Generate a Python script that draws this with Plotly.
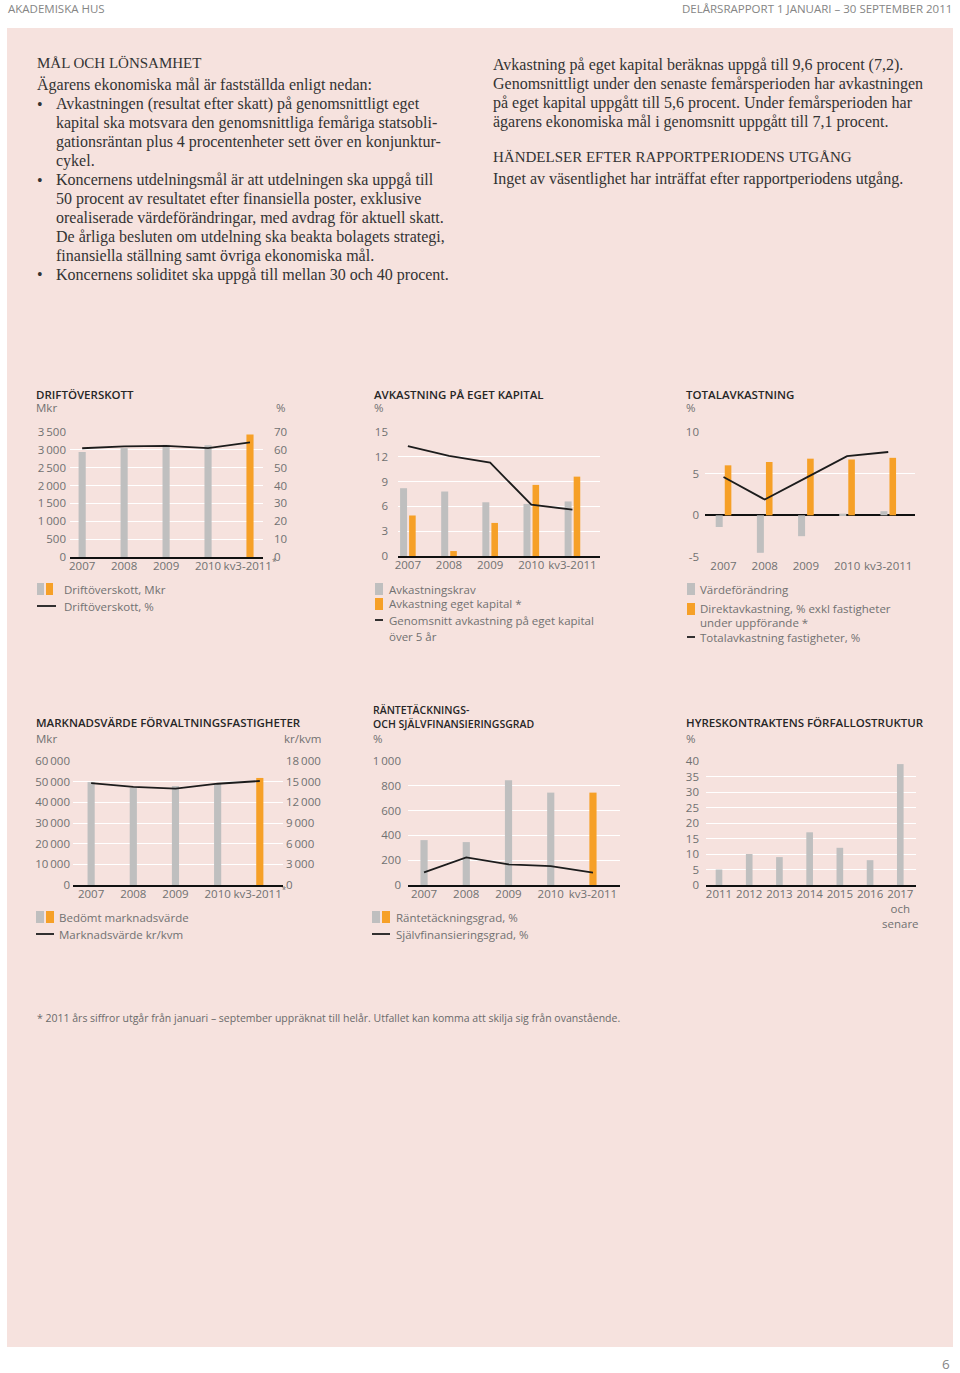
import plotly.graph_objects as go

W, H = 960, 1373

# ---------------- data ----------------
years5 = ["2007", "2008", "2009", "2010", "kv3-2011"]
years5_ticks = ["2007", "2008", "2009", "2010", "kv3-2011"]
years5_ticks_star = ["2007", "2008", "2009", "2010", "kv3-2011<sup>*</sup>"]

drift_mkr = [2940, 3050, 3140, 3130, 3430]
drift_pct = [60.9, 62.0, 62.2, 61.0, 64.2]

avk_krav = [8.2, 7.8, 6.5, 6.3, 6.6]
avk_eget = [4.9, 0.6, 4.0, 8.6, 9.6]
avk_snitt = [13.3, 12.1, 11.3, 6.2, 5.6]

vardeforandring = [-1.4, -4.5, -2.5, 0.2, 0.5]
direktavk = [6.0, 6.4, 6.8, 6.7, 6.9]
totalavk = [4.6, 1.9, 4.5, 7.1, 7.6]

marknadsvarde = [49800, 47100, 47900, 49100, 51800]
kr_kvm = [14800, 14250, 14000, 14700, 15100]

rantetackning = [362, 346, 845, 745, 745]
sjalvfin = [102, 222, 166, 153, 99]

hyres_years = ["2011", "2012", "2013", "2014", "2015", "2016", "2017 och senare"]
hyres_ticks = ["2011", "2012", "2013", "2014", "2015", "2016", "2017<br>och<br>senare"]
hyres_pct = [5, 10, 9, 17, 12, 8, 39]

# tick labels
drift_left_vals = [0, 500, 1000, 1500, 2000, 2500, 3000, 3500]
drift_left_text = ["0", "500", "1\u2009000", "1\u2009500", "2\u2009000", "2\u2009500", "3\u2009000", "3\u2009500"]
drift_right_vals = [0, 10, 20, 30, 40, 50, 60, 70]
drift_right_text = ["0", "10", "20", "30", "40", "50", "60", "70"]
avk_vals = [0, 3, 6, 9, 12, 15]
avk_text = ["0", "3", "6", "9", "12", "15"]
tot_vals = [-5, 0, 5, 10]
tot_text = ["-5", "0", "5", "10"]
mv_left_vals = [0, 10000, 20000, 30000, 40000, 50000, 60000]
mv_left_text = ["0", "10\u2009000", "20\u2009000", "30\u2009000", "40\u2009000", "50\u2009000", "60\u2009000"]
mv_right_vals = [0, 3000, 6000, 9000, 12000, 15000, 18000]
mv_right_text = ["0", "3\u2009000", "6\u2009000", "9\u2009000", "12\u2009000", "15\u2009000", "18\u2009000"]
rt_vals = [0, 200, 400, 600, 800, 1000]
rt_text = ["0", "200", "400", "600", "800", "1\u2009000"]
hy_vals = [0, 5, 10, 15, 20, 25, 30, 35, 40]
hy_text = ["0", "5", "10", "15", "20", "25", "30", "35", "40"]

# ---------------- style ----------------
GRAY = "#bfbfbf"
ORANGE = "#f6a027"
PINK = "#f6e2de"
LINE = "#1c1c1c"
TICKC = "#717171"
SANS = "Open Sans"
SERIF = "Liberation Serif"
TF = dict(family=SANS, size=11.5, color=TICKC)


def dx(x0, x1):
    return [x0 / W, x1 / W]


def dy(ytop, ybot):
    return [1 - ybot / H, 1 - ytop / H]


def px(x):
    return x / W


def py(y):
    return 1 - y / H


fig = go.Figure()

bar_colors5 = [GRAY, GRAY, GRAY, GRAY, ORANGE]

# chart 1
fig.add_trace(go.Bar(x=years5, y=drift_mkr, width=0.17, marker=dict(color=bar_colors5, line_width=0),
                     xaxis="x", yaxis="y", showlegend=False))
fig.add_trace(go.Scatter(x=years5, y=drift_pct, mode="lines", line=dict(color=LINE, width=1.8),
                         xaxis="x", yaxis="y7", showlegend=False))
# chart 2
fig.add_trace(go.Bar(x=years5, y=avk_krav, width=0.17, offset=-0.19, marker=dict(color=GRAY, line_width=0),
                     xaxis="x2", yaxis="y2", showlegend=False))
fig.add_trace(go.Bar(x=years5, y=avk_eget, width=0.16, offset=0.03, marker=dict(color=ORANGE, line_width=0),
                     xaxis="x2", yaxis="y2", showlegend=False))
fig.add_trace(go.Scatter(x=years5, y=avk_snitt, mode="lines", line=dict(color=LINE, width=1.8),
                         xaxis="x2", yaxis="y2", showlegend=False))
# chart 3
fig.add_trace(go.Bar(x=years5, y=vardeforandring, width=0.17, offset=-0.19, marker=dict(color=GRAY, line_width=0),
                     xaxis="x3", yaxis="y3", showlegend=False))
fig.add_trace(go.Bar(x=years5, y=direktavk, width=0.16, offset=0.03, marker=dict(color=ORANGE, line_width=0),
                     xaxis="x3", yaxis="y3", showlegend=False))
fig.add_trace(go.Scatter(x=years5, y=totalavk, mode="lines", line=dict(color=LINE, width=1.8),
                         xaxis="x3", yaxis="y3", showlegend=False))
# chart 4
fig.add_trace(go.Bar(x=years5, y=marknadsvarde, width=0.17, marker=dict(color=bar_colors5, line_width=0),
                     xaxis="x4", yaxis="y4", showlegend=False))
fig.add_trace(go.Scatter(x=years5, y=kr_kvm, mode="lines", line=dict(color=LINE, width=1.8),
                         xaxis="x4", yaxis="y8", showlegend=False))
# chart 5
fig.add_trace(go.Bar(x=years5, y=rantetackning, width=0.17, marker=dict(color=bar_colors5, line_width=0),
                     xaxis="x5", yaxis="y5", showlegend=False))
fig.add_trace(go.Scatter(x=years5, y=sjalvfin, mode="lines", line=dict(color=LINE, width=1.8),
                         xaxis="x5", yaxis="y5", showlegend=False))
# chart 6
fig.add_trace(go.Bar(x=hyres_years, y=hyres_pct, width=0.22, marker=dict(color=GRAY, line_width=0),
                     xaxis="x6", yaxis="y6", showlegend=False))


def xax(dom, rng, anchor, ticktext, cats, showline=True, standoff=-3):
    return dict(domain=dom, range=rng, type="category", anchor=anchor, showgrid=False, zeroline=False,
                showline=showline, linecolor="#111111", linewidth=2, ticks="", tickangle=0,
                tickfont=TF, tickmode="array", tickvals=cats, ticktext=ticktext, fixedrange=True,
                categoryorder="array", categoryarray=cats, automargin=False, ticklabelstandoff=standoff)


def yax(dom, rng, anchor, vals, text, standoff=4, side="left", grid=True, zeroline=False, overlaying=None):
    d = dict(domain=dom, range=rng, anchor=anchor, showgrid=grid, gridcolor="white", gridwidth=1.4,
             zeroline=zeroline, zerolinecolor="#111111", zerolinewidth=2, showline=False, ticks="",
             tickfont=TF, tickmode="array", tickvals=vals, ticktext=text, side=side,
             ticklabelstandoff=standoff, fixedrange=True, automargin=False)
    if overlaying:
        d["overlaying"] = overlaying
        d.pop("domain")
    return d


fig.update_layout(
    xaxis=xax(dx(70, 263), [-0.29, 4.31], "y", years5_ticks_star, years5),
    yaxis=yax(dy(432, 557), [0, 3500], "x", drift_left_vals, drift_left_text, standoff=3),
    yaxis7=yax(None, [0, 70], "x", drift_right_vals, drift_right_text, standoff=10, side="right",
               grid=False, overlaying="y"),
    xaxis2=xax(dx(398, 600), [-0.24, 4.67], "y2", years5_ticks, years5),
    yaxis2=yax(dy(432, 556), [0, 15], "x2", avk_vals, avk_text, standoff=9),
    xaxis3=xax(dx(705, 915), [-0.45, 4.65], "y3", years5_ticks, years5, showline=False, standoff=0),
    yaxis3=yax(dy(432, 557), [-5, 10], "x3", tot_vals, tot_text, standoff=5, zeroline=True),
    xaxis4=xax(dx(73, 283), [-0.43, 4.55], "y4", years5_ticks_star, years5),
    yaxis4=yax(dy(761, 885), [0, 60000], "x4", mv_left_vals, mv_left_text, standoff=2),
    yaxis8=yax(None, [0, 18000], "x4", mv_right_vals, mv_right_text, standoff=2, side="right",
               grid=False, overlaying="y4"),
    xaxis5=xax(dx(408, 620), [-0.38, 4.64], "y5", years5_ticks, years5),
    yaxis5=yax(dy(761, 885), [0, 1000], "x5", rt_vals, rt_text, standoff=6),
    xaxis6=xax(dx(706, 916), [-0.43, 6.52], "y6", hyres_ticks, hyres_years),
    yaxis6=yax(dy(761, 885), [0, 40], "x6", hy_vals, hy_text, standoff=6),
    barmode="overlay",
    width=W, height=H,
    autosize=False,
    margin=dict(l=0, r=0, t=0, b=0, pad=0, autoexpand=False),
    paper_bgcolor="white",
    plot_bgcolor="rgba(0,0,0,0)",
    showlegend=False,
)

shapes = []
# pink panel
shapes.append(dict(type="rect", xref="paper", yref="paper", x0=px(7), x1=px(953), y0=py(1347), y1=py(28),
                   fillcolor=PINK, line_width=0, layer="below"))


def sq(x0, x1, y0, y1, color):
    shapes.append(dict(type="rect", xref="paper", yref="paper", x0=px(x0), x1=px(x1), y0=py(y1), y1=py(y0),
                       fillcolor=color, line_width=0, layer="above"))


def ln(x0, x1, y):
    shapes.append(dict(type="line", xref="paper", yref="paper", x0=px(x0), x1=px(x1), y0=py(y), y1=py(y),
                       line=dict(color=LINE, width=1.8), layer="above"))


annotations = []


def txt(x, y, s, size=11.5, color=TICKC, family=SANS, xanchor="left", yanchor="middle", weight=None):
    f = dict(family=family, size=size, color=color)
    if weight:
        f["weight"] = weight
    annotations.append(dict(x=px(x), y=py(y), xref="paper", yref="paper", text=s, showarrow=False,
                            xanchor=xanchor, yanchor=yanchor, align="left", borderpad=0,
                            font=f))


# header / footer
txt(7, 9, "AKADEMISKA HUS", size=11.5, color="#858585")
txt(953, 9, "DELÅRSRAPPORT 1 JANUARI – 30 SEPTEMBER 2011", size=11.5, color="#858585", xanchor="right")
txt(951, 1364, "6", size=13.5, color="#858585", xanchor="right")
txt(36, 1018, "* 2011 års siffror utgår från januari – september uppräknat till helår. Utfallet kan komma att skilja sig från ovanstående.",
    size=10.5, color="#6a6a6a")

# serif body text
BODY = "#333333"
SZ = 16
HSZ = 15
txt(36, 63, "MÅL OCH LÖNSAMHET", size=HSZ, color=BODY, family=SERIF)
txt(36, 85, "Ägarens ekonomiska mål är fastställda enligt nedan:", size=SZ, color=BODY, family=SERIF)
left_lines = [
    (104, True, "Avkastningen (resultat efter skatt) på genomsnittligt eget"),
    (123, False, "kapital ska motsvara den genomsnittliga femåriga statsobli-"),
    (142, False, "gationsräntan plus 4 procentenheter sett över en konjunktur-"),
    (161, False, "cykel."),
    (180, True, "Koncernens utdelningsmål är att utdelningen ska uppgå till"),
    (199, False, "50 procent av resultatet efter finansiella poster, exklusive"),
    (218, False, "orealiserade värdeförändringar, med avdrag för aktuell skatt."),
    (237, False, "De årliga besluten om utdelning ska beakta bolagets strategi,"),
    (256, False, "finansiella ställning samt övriga ekonomiska mål."),
    (275, True, "Koncernens soliditet ska uppgå till mellan 30 och 40 procent."),
]
for yy, bullet, s in left_lines:
    if bullet:
        txt(36, yy, "•", size=SZ, color=BODY, family=SERIF)
    txt(55, yy, s, size=SZ, color=BODY, family=SERIF)

right_lines = [
    (65, "Avkastning på eget kapital beräknas uppgå till 9,6 procent (7,2).", SZ),
    (84, "Genomsnittligt under den senaste femårsperioden har avkastningen", SZ),
    (103, "på eget kapital uppgått till 5,6 procent. Under femårsperioden har", SZ),
    (122, "ägarens ekonomiska mål i genomsnitt uppgått till 7,1 procent.", SZ),
    (157, "HÄNDELSER EFTER RAPPORTPERIODENS UTGÅNG", HSZ),
    (179, "Inget av väsentlighet har inträffat efter rapportperiodens utgång.", SZ),
]
for yy, s, z in right_lines:
    txt(492, yy, s, size=z, color=BODY, family=SERIF)

TITLE = dict(size=11.5, color="#262626", weight=600)
# chart titles + units
txt(35, 394, "DRIFTÖVERSKOTT", **TITLE)
txt(35, 408, "Mkr")
txt(275, 408, "%")
txt(373, 394, "AVKASTNING PÅ EGET KAPITAL", **TITLE)
txt(373, 408, "%")
txt(685, 394, "TOTALAVKASTNING", **TITLE)
txt(685, 408, "%")
txt(35, 723, "MARKNADSVÄRDE FÖRVALTNINGSFASTIGHETER", **TITLE)
txt(35, 738, "Mkr")
txt(283, 738, "kr/kvm")
txt(372, 717, "RÄNTETÄCKNINGS-<br>OCH SJÄLVFINANSIERINGSGRAD", size=10.5, color="#262626", weight=600)
txt(372, 738, "%")
txt(685, 723, "HYRESKONTRAKTENS FÖRFALLOSTRUKTUR", **TITLE)
txt(685, 738, "%")

# legends
sq(37, 44, 583, 595, GRAY); sq(46, 53, 583, 595, ORANGE)
txt(63, 589, "Driftöverskott, Mkr")
ln(37, 56, 606)
txt(63, 606, "Driftöverskott, %")

sq(375, 383, 583, 595, GRAY)
txt(388, 589, "Avkastningskrav")
sq(375, 383, 598, 610, ORANGE)
txt(388, 604, "Avkastning eget kapital *")
ln(375, 383, 620)
txt(388, 620, "Genomsnitt avkastning på eget kapital")
txt(388, 636, "över 5 år")

sq(687, 695, 583, 595, GRAY)
txt(699, 589, "Värdeförändring")
sq(687, 695, 603, 615, ORANGE)
txt(699, 608, "Direktavkastning, % exkl fastigheter")
txt(699, 622, "under uppförande *")
ln(687, 695, 637)
txt(699, 637, "Totalavkastning fastigheter, %")

sq(36, 44, 911, 923, GRAY); sq(46, 54, 911, 923, ORANGE)
txt(58, 917, "Bedömt marknadsvärde")
ln(36, 54, 934)
txt(58, 934, "Marknadsvärde kr/kvm")

sq(372, 380, 911, 923, GRAY); sq(382, 390, 911, 923, ORANGE)
txt(395, 917, "Räntetäckningsgrad, %")
ln(372, 390, 934)
txt(395, 934, "Självfinansieringsgrad, %")

fig.update_layout(shapes=shapes, annotations=annotations)

page_css = ("document.documentElement.style.margin='0';document.body.style.margin='0';"
            "document.body.style.padding='0';document.body.style.overflow='hidden';"
            "document.documentElement.style.overflow='hidden';")
fig.write_html("out.html", config={"displayModeBar": False}, post_script=page_css)
